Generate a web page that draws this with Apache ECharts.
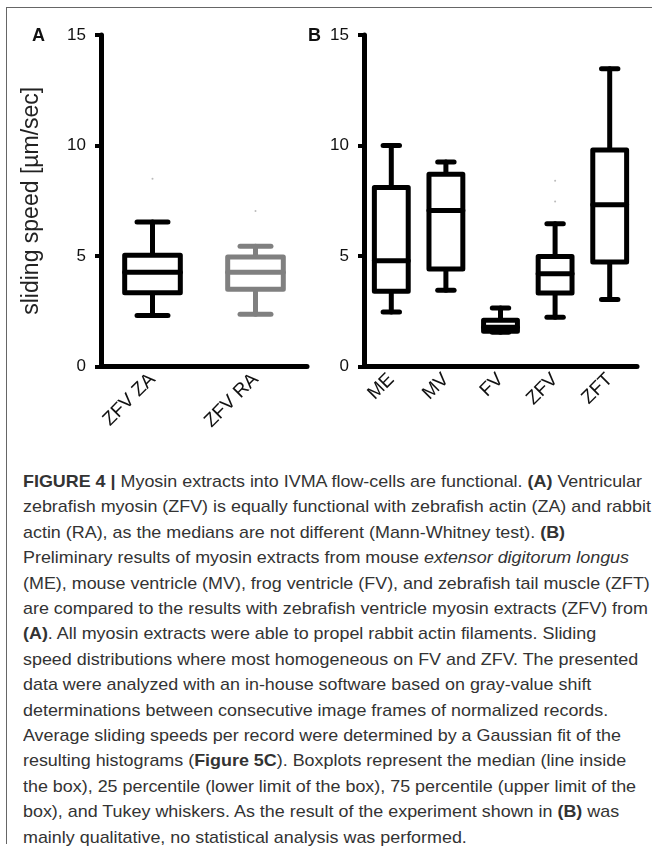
<!DOCTYPE html>
<html>
<head>
<meta charset="utf-8">
<script src="https://cdn.jsdelivr.net/npm/echarts@6/dist/echarts.min.js"></script>
<style>
    body { margin: 0; background: #fff; }
    #frame { position: absolute; left: 6px; top: 7px; width: 646px; height: 836px;
        border-top: 1.5px solid #666; border-left: 1.5px solid #666; }
    #chart { position: absolute; left: 0; top: 0; width: 652px; height: 450px; }
    #caption { position: absolute; left: 23px; top: 469px; color: #333;
        font-family: "Liberation Sans", Arial, sans-serif; font-size: 17px; line-height: 25.4px;
        transform-origin: 0 0; white-space: nowrap; }
    #caption div span { display: inline-block; }
</style>
</head>
<body>
<div id="frame"></div>
<div id="chart"></div>
<div id="caption">
    <div><span id="firstLine"><b>FIGURE 4 |</b> Myosin extracts into IVMA flow-cells are functional. <b>(A)</b> Ventricular</span></div>
    <div><span>zebrafish myosin (ZFV) is equally functional with zebrafish actin (ZA) and rabbit</span></div>
    <div><span>actin (RA), as the medians are not different (Mann-Whitney test). <b>(B)</b></span></div>
    <div><span>Preliminary results of myosin extracts from mouse <i>extensor digitorum longus</i></span></div>
    <div><span>(ME), mouse ventricle (MV), frog ventricle (FV), and zebrafish tail muscle (ZFT)</span></div>
    <div><span>are compared to the results with zebrafish ventricle myosin extracts (ZFV) from</span></div>
    <div><span><b>(A)</b>. All myosin extracts were able to propel rabbit actin filaments. Sliding</span></div>
    <div><span>speed distributions where most homogeneous on FV and ZFV. The presented</span></div>
    <div><span>data were analyzed with an in-house software based on gray-value shift</span></div>
    <div><span>determinations between consecutive image frames of normalized records.</span></div>
    <div><span>Average sliding speeds per record were determined by a Gaussian fit of the</span></div>
    <div><span>resulting histograms (<b>Figure 5C</b>). Boxplots represent the median (line inside</span></div>
    <div><span>the box), 25 percentile (lower limit of the box), 75 percentile (upper limit of the</span></div>
    <div><span>box), and Tukey whiskers. As the result of the experiment shown in <b>(B)</b> was</span></div>
    <div><span>mainly qualitative, no statistical analysis was performed.</span></div>
</div>
<script>
// panel A: ZFV myosin on zebrafish / rabbit actin
var catsA = ["ZFV ZA", "ZFV RA"];
// [low whisker, Q1, median, Q3, high whisker]
var boxA = [
    [2.31, 3.34, 4.27, 5.03, 6.54],
    [2.36, 3.49, 4.27, 4.95, 5.44]
];
var colorsA = ["#000", "#808080"];
var outA = [[0, 8.5], [1, 7.04]];

// panel B: myosin extracts
var catsB = ["ME", "MV", "FV", "ZFV", "ZFT"];
var boxB = [
    [2.47, 3.40, 4.79, 8.10, 10.0],
    [3.45, 4.41, 7.06, 8.70, 9.25],
    [1.55, 1.60, 1.78, 2.09, 2.65],
    [2.23, 3.33, 4.20, 4.98, 6.46],
    [3.03, 4.73, 7.32, 9.80, 13.47]
];
var outB = [[3, 8.4], [3, 7.47]];

var yTicks = { min: 0, max: 15, interval: 5 };
var font = "Liberation Sans, Arial, sans-serif";

// draws box + whiskers through the axes; boxFrac / capFrac are parts of the category band
function boxRenderer(colors, boxFrac, capFrac) {
    return function (params, api) {
        var x = api.value(0);
        var p = [1, 2, 3, 4, 5].map(function (i) {
            return api.coord([x, api.value(i)]);
        });
        var band = api.size([1, 0])[0];
        var bw = band * boxFrac / 2, cw = band * capFrac / 2;
        var cx = p[0][0];
        var color = colors ? colors[params.dataIndex] : "#000";
        var style = { stroke: color, lineWidth: 5, lineCap: "round", fill: null };
        function line(x1, y1, x2, y2) {
            return { type: "line", shape: { x1: x1, y1: y1, x2: x2, y2: y2 }, style: style };
        }
        return {
            type: "group",
            children: [
                line(cx, p[3][1], cx, p[4][1]),
                line(cx, p[1][1], cx, p[0][1]),
                line(cx - cw, p[4][1], cx + cw, p[4][1]),
                line(cx - cw, p[0][1], cx + cw, p[0][1]),
                { type: "rect", shape: { x: cx - bw, y: p[3][1], width: 2 * bw, height: p[1][1] - p[3][1] },
                    style: { stroke: color, lineWidth: 5, fill: "#fff", lineJoin: "round" } },
                line(cx - bw, p[2][1], cx + bw, p[2][1])
            ]
        };
    };
}

function xAxis(idx, cats) {
    return {
        type: "category", gridIndex: idx, data: cats,
        axisLine: { lineStyle: { color: "#000", width: 5, cap: "round" } },
        axisTick: { alignWithLabel: true, length: 6, lineStyle: { color: "#000", width: 4 } },
        axisLabel: { rotate: 45, margin: 10, fontSize: 19, color: "#111", fontFamily: font },
        splitLine: { show: false }
    };
}

function yAxis(idx, name) {
    return {
        type: "value", gridIndex: idx, min: yTicks.min, max: yTicks.max, interval: yTicks.interval,
        name: name, nameLocation: "middle", nameGap: 58, nameRotate: 90,
        nameTextStyle: { fontSize: 23, color: "#222", fontFamily: font },
        axisLine: { show: true, lineStyle: { color: "#000", width: 5, cap: "round" } },
        axisTick: { show: true, length: 6, lineStyle: { color: "#000", width: 4 } },
        axisLabel: { margin: 15, fontSize: 17, color: "#111", fontFamily: font },
        splitLine: { show: false }
    };
}

var chart = echarts.init(document.getElementById("chart"));
chart.setOption({
    animation: false,
    grid: [
        { left: 101, right: 345, top: 35, bottom: 83.5 },
        { left: 364, right: 15, top: 35, bottom: 83.5 }
    ],
    xAxis: [xAxis(0, catsA), xAxis(1, catsB)],
    yAxis: [yAxis(0, "sliding speed [µm/sec]"), yAxis(1, "")],
    graphic: [
        { type: "text", left: 32, top: 27, style: { text: "A", font: "bold 18px " + font, fill: "#111" } },
        { type: "text", left: 308, top: 27, style: { text: "B", font: "bold 18px " + font, fill: "#111" } }
    ],
    series: [
        {
            type: "custom", xAxisIndex: 0, yAxisIndex: 0,
            renderItem: boxRenderer(colorsA, 0.54, 0.3),
            encode: { x: 0, y: [1, 2, 3, 4, 5] },
            data: boxA.map(function (b, i) { return [i].concat(b); }),
            z: 3
        },
        {
            type: "custom", xAxisIndex: 1, yAxisIndex: 1,
            renderItem: boxRenderer(null, 0.62, 0.3),
            encode: { x: 0, y: [1, 2, 3, 4, 5] },
            data: boxB.map(function (b, i) { return [i].concat(b); }),
            z: 3
        },
        { type: "scatter", xAxisIndex: 0, yAxisIndex: 0, data: outA, symbolSize: 2,
            itemStyle: { color: "#aaa" } },
        { type: "scatter", xAxisIndex: 1, yAxisIndex: 1, data: outB, symbolSize: 2,
            itemStyle: { color: "#aaa" } }
    ]
});

// squeeze caption to the narrow face of the original
var first = document.getElementById("firstLine");
var k = 619 / first.getBoundingClientRect().width;
document.getElementById("caption").style.transform = "scaleX(" + k + ")";
</script>
</body>
</html>
